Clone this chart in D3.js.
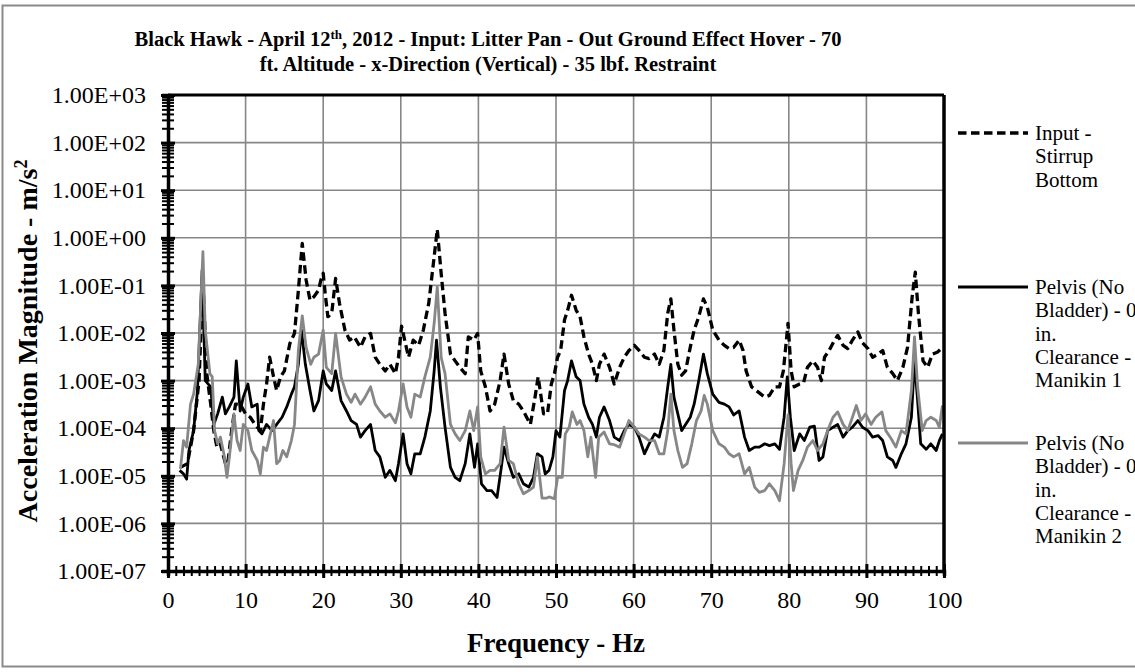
<!DOCTYPE html>
<html><head><meta charset="utf-8">
<script src="https://cdn.jsdelivr.net/npm/d3@7"></script>
<style>html,body{margin:0;padding:0;background:#fff;}svg{display:block;}</style>
</head><body>
<svg id="chart" width="1135" height="672"></svg>
<script>
// ---------- DATA ----------
const inputFreq = [1.6,2.5,3.3,4.0,4.5,5.0,5.5,5.9,6.3,6.75,7.4,7.7,8.2,8.7,9.3,10.0,10.6,11.2,11.9,12.3,12.7,13.1,13.6,14.0,14.5,15.0,15.7,16.3,16.8,17.3,17.8,18.3,18.8,19.4,19.7,20.0,20.3,20.6,21.1,21.6,22.1,22.8,23.4,24.0,24.8,25.4,26.1,26.7,27.3,28.0,28.6,29.3,29.7,30.1,30.6,31.0,31.6,32.3,32.9,33.6,34.2,34.7,35.2,35.7,36.4,37.0,37.6,38.3,38.7,39.4,39.9,40.3,40.9,41.5,42.1,42.8,43.3,43.9,44.5,45.2,45.8,46.7,47.3,47.7,48.4,48.9,49.4,49.8,50.2,50.6,51.1,51.5,52.0,52.6,53.1,53.6,54.2,54.7,55.2,55.6,56.2,56.9,57.5,58.2,58.8,59.4,60.1,60.7,61.4,62.0,62.7,63.3,63.9,64.4,64.8,65.2,65.7,66.2,66.7,67.3,67.8,68.4,69.0,69.5,70.2,71.0,71.7,72.3,72.9,73.6,74.1,74.5,75.2,75.8,76.4,76.9,77.5,78.2,78.8,79.3,79.9,80.3,80.7,81.4,81.9,82.4,83.1,83.7,84.2,84.6,85.2,85.9,86.3,87.0,87.6,88.2,88.9,89.5,90.2,90.8,91.5,92.1,92.7,93.4,94.0,94.7,95.3,95.9,96.3,96.7,97.3,97.9,98.5,99.2,99.8];
const inputValues = [1.5e-5,1.8e-5,8.9e-5,1e-3,0.13,1.4e-3,3.2e-4,8.9e-5,4e-5,4.7e-5,1.8e-5,1.8e-5,8.9e-5,3.2e-4,3.2e-4,2e-4,1.7e-4,1.2e-4,8.9e-5,3.2e-4,8.5e-4,3.1e-3,1.2e-3,6.2e-4,1.2e-3,1.6e-3,6e-3,9.8e-3,0.079,0.76,0.13,0.049,0.058,0.079,0.13,0.18,0.058,0.022,0.026,0.14,0.042,0.0115,0.0071,0.0083,0.005,0.0083,0.0098,0.0031,0.0022,0.0016,0.0022,0.0014,0.0031,0.014,0.006,0.0031,0.0071,0.0055,0.0115,0.042,0.29,1.5,0.18,0.026,0.0036,0.0026,0.0019,0.0014,0.0083,0.0071,0.0098,0.0016,7.4e-4,2.3e-4,3.2e-4,1e-3,3.6e-3,8.5e-4,3.8e-4,3.2e-4,2.3e-4,1.2e-4,4.5e-4,1.2e-3,2e-4,2e-4,8.5e-4,1.4e-3,3.1e-3,4.3e-3,0.019,0.030,0.062,0.030,0.022,0.0083,0.0036,0.0022,0.001,0.0022,0.0036,0.0019,8.5e-4,0.0019,0.0031,0.0043,0.0055,0.0043,0.0031,0.0029,0.0036,0.0022,0.0043,0.026,0.052,0.0115,0.0022,0.0013,0.0016,0.005,0.0115,0.022,0.052,0.035,0.0115,0.0071,0.0055,0.0047,0.005,0.0071,0.0043,0.0016,7.4e-4,6.2e-4,5.2e-4,4.5e-4,4.9e-4,7.4e-4,7.4e-4,0.0016,0.016,0.0016,7.4e-4,8.5e-4,9e-4,0.0019,0.0026,0.0019,0.001,0.0031,0.0043,0.0071,0.0089,0.0055,0.0047,0.0071,0.0105,0.0062,0.0047,0.0031,0.0036,0.0043,0.0019,0.0014,0.001,0.0019,0.005,0.058,0.19,0.026,0.0026,0.0019,0.0036,0.004,0.005];

const manikin1Freq = [1.5,2.0,2.4,2.7,3.3,3.8,4.4,4.8,5.5,5.9,6.4,7.0,7.4,7.9,8.5,8.8,9.3,9.7,10.3,10.8,11.5,11.7,12.1,12.7,13.4,14.0,14.7,15.3,15.9,16.3,16.8,17.2,17.7,18.3,18.8,19.4,20.0,20.4,21.1,21.6,22.3,23.0,23.6,24.3,24.8,25.4,26.1,26.7,27.3,28.0,28.6,29.3,29.7,30.3,30.8,31.3,31.8,32.5,33.1,33.8,34.3,34.6,35.1,35.7,36.4,37.0,37.6,38.3,38.9,39.5,39.9,40.4,41.1,41.7,42.4,42.9,43.3,43.9,44.5,45.2,45.8,46.5,47.1,47.6,48.2,48.6,49.1,49.6,50.0,50.5,51.1,51.5,52.0,52.6,53.1,53.6,54.2,54.7,55.2,55.6,56.2,56.9,57.5,58.2,58.8,59.4,60.1,60.7,61.4,62.0,62.7,63.3,63.9,64.4,64.8,65.2,65.7,66.2,66.7,67.3,67.8,68.4,69.0,69.5,70.2,71.0,71.7,72.3,72.9,73.6,74.3,74.9,75.6,76.2,76.9,77.5,78.2,78.8,79.4,79.8,80.2,80.7,81.4,82.0,82.7,83.3,83.9,84.4,85.0,85.7,86.3,87.0,87.6,88.2,88.9,89.5,90.2,90.8,91.5,92.1,92.7,93.4,93.8,94.5,95.1,95.8,96.2,96.6,97.0,97.7,98.3,99.0,99.4,99.8];
const manikin1Values = [1.3e-5,1.1e-5,8.5e-6,3.4e-5,8.9e-5,6.2e-4,0.21,1e-3,7.4e-4,1.2e-4,2e-4,4.5e-4,2e-4,2.8e-4,4.5e-4,2.6e-3,2.3e-4,4.5e-4,8.5e-4,2.8e-4,3.2e-4,8.9e-5,7.6e-5,1.2e-4,8.9e-5,1.2e-4,1.7e-4,2.8e-4,5.2e-4,7.4e-4,2.2e-3,0.0115,2.2e-3,6.2e-4,2.3e-4,3.8e-4,1.6e-3,8.5e-4,6.2e-4,1.6e-3,3.8e-4,2.3e-4,1.45e-4,1.2e-4,6.5e-5,8.9e-5,1.2e-4,3.4e-5,2.5e-5,9.3e-6,1.3e-5,7.9e-6,1.8e-5,7.6e-5,1.8e-5,1.1e-5,2.9e-5,2.9e-5,6.5e-5,2.3e-4,1.6e-3,7.1e-3,7.4e-4,1.05e-4,1.5e-5,9.3e-6,7.9e-6,1.8e-5,7.6e-5,1.5e-5,4.7e-5,6.8e-6,4.9e-6,4.9e-6,3.5e-6,1.3e-5,4e-5,1.8e-5,9.3e-6,1.1e-5,6.8e-6,5.8e-6,9.3e-6,2.9e-5,2.5e-5,1.1e-5,1.3e-5,2.5e-5,8.9e-5,6.5e-5,6.2e-4,1e-3,2.6e-3,1.2e-3,1e-3,3.2e-4,1.7e-4,1.2e-4,6.5e-5,1.7e-4,2.8e-4,1.45e-4,6.5e-5,5.5e-5,8.9e-5,1.2e-4,1.05e-4,6.5e-5,2.9e-5,4.7e-5,7.6e-5,6.5e-5,1.7e-4,7.4e-4,2.2e-3,4.5e-4,2e-4,8.9e-5,1.2e-4,1.7e-4,3.2e-4,1e-3,3.6e-3,1.4e-3,5.2e-4,3.5e-4,3.2e-4,2.8e-4,1.9e-4,2.3e-4,6.5e-5,3.4e-5,4e-5,4e-5,4.7e-5,4.3e-5,4.7e-5,3.6e-5,1.7e-4,1.2e-3,1.7e-4,3.4e-5,7.6e-5,5.5e-5,1.05e-4,1.1e-4,2.1e-5,2.5e-5,8.9e-5,1.05e-4,1.2e-4,6.5e-5,8.9e-5,1.05e-4,1.45e-4,1.05e-4,8.9e-5,6.5e-5,7e-5,5.5e-5,2.5e-5,2.1e-5,1.5e-5,2.9e-5,4.7e-5,1.7e-4,2.6e-3,3.8e-4,4.7e-5,3.6e-5,4.7e-5,3.4e-5,5.5e-5,7.6e-5];

const manikin2Freq = [1.6,2.0,2.4,2.9,3.3,3.9,4.5,4.8,5.4,5.7,6.0,6.4,6.75,7.2,7.6,8.0,8.5,8.9,9.3,9.7,10.3,10.8,11.5,11.9,12.3,12.7,13.1,13.6,14.0,14.4,14.8,15.3,15.9,16.3,16.8,17.3,17.8,18.4,18.8,19.4,20.0,20.4,21.1,21.6,22.3,23.0,23.6,24.1,24.8,25.4,26.1,26.7,27.3,28.0,28.6,29.3,29.7,30.3,30.8,31.3,31.8,32.5,33.1,33.8,34.3,34.7,35.2,35.7,36.4,37.0,37.6,38.3,38.9,39.4,39.9,40.3,40.9,41.5,42.1,42.8,43.3,43.9,44.5,45.2,45.8,46.5,47.1,47.6,48.2,48.8,49.1,49.8,50.2,50.8,51.2,51.7,52.1,52.7,53.1,53.6,54.1,54.5,55.1,55.5,56.2,56.9,57.5,58.2,58.8,59.4,60.1,60.7,61.4,62.0,62.7,63.3,63.9,64.4,64.8,65.2,65.7,66.3,66.9,67.5,68.1,68.7,69.1,69.5,70.2,71.0,71.7,72.3,72.9,73.6,74.3,74.9,75.6,76.2,76.9,77.5,78.2,78.8,79.4,79.9,80.3,80.6,81.2,81.8,82.4,83.1,83.7,84.4,85.0,85.7,86.3,87.0,87.6,88.2,88.7,89.3,89.9,90.6,91.2,92.0,92.5,93.2,93.8,94.5,95.1,95.8,96.2,96.6,97.2,97.7,98.3,99.0,99.4,99.8];
const manikin2Values = [1.4e-5,5.5e-5,4e-5,3.2e-4,5.2e-4,2.2e-3,0.51,0.0115,1.4e-3,1.2e-3,8.9e-5,4.7e-5,6.5e-5,2.9e-5,9.3e-6,3.4e-5,2e-4,5.5e-5,3.4e-5,1.2e-4,8.9e-5,3.4e-5,2.1e-5,1.1e-5,4e-5,3.4e-5,6.5e-5,1.45e-4,1.8e-5,2.1e-5,3.4e-5,2.5e-5,5.5e-5,1.2e-4,4.3e-3,0.023,5e-3,2.2e-3,3.1e-3,3.6e-3,0.0115,1.9e-3,1.4e-3,9.8e-3,1.2e-3,5.2e-4,3.5e-4,5.2e-4,3.2e-4,4.5e-4,7.4e-4,3.2e-4,2.3e-4,1.7e-4,2e-4,1.3e-4,2.3e-4,8.5e-4,2.8e-4,1.7e-4,5.2e-4,4.5e-4,1.2e-3,3.1e-3,0.016,0.093,3.1e-3,1.4e-3,1.2e-4,7.6e-5,5.5e-5,8.9e-5,2.3e-4,8.9e-5,2.8e-4,2.5e-5,1.1e-5,1.3e-5,1.3e-5,1.8e-5,1.05e-4,2.1e-5,1.8e-5,6.8e-6,4.2e-6,4.9e-6,5.8e-6,2.5e-5,3.4e-6,3.4e-6,3.6e-6,3.3e-6,9.3e-6,9.3e-6,7.6e-5,1.05e-4,2.2e-4,1.2e-4,1.45e-4,8.9e-5,2.5e-5,6.5e-5,9.3e-6,6.5e-5,8.3e-5,4.7e-5,4.5e-5,4e-5,7.6e-5,1.45e-4,1.05e-4,7.6e-5,6.5e-5,5.5e-5,5.5e-5,2.9e-5,2.9e-5,8.9e-5,5.2e-4,8.9e-5,3.4e-5,1.5e-5,1.8e-5,4.7e-5,1.45e-4,2.3e-4,4.9e-4,3.2e-4,8.9e-5,4.7e-5,4e-5,2.9e-5,2.5e-5,2.9e-5,1.1e-5,1.5e-5,5.8e-6,4.5e-6,4.9e-6,6.8e-6,4.9e-6,3e-6,1.8e-5,1.9e-4,1.8e-5,4.9e-6,1.3e-5,2.1e-5,4e-5,5.5e-5,3.4e-5,4.7e-5,8.9e-5,1.7e-4,2.2e-4,1.2e-4,8.9e-5,1.7e-4,3e-4,1.45e-4,2e-4,1.2e-4,1.7e-4,2.2e-4,8.9e-5,6e-5,4e-5,8.9e-5,7.6e-5,6.2e-4,8.3e-3,7.4e-4,8.9e-5,1.45e-4,1.7e-4,1.45e-4,1.05e-4,3e-4];

const seriesNames = [["Input -","Stirrup","Bottom"],["Pelvis (No","Bladder) - 0","in.","Clearance -","Manikin 1"],["Pelvis (No","Bladder) - 0","in.","Clearance -","Manikin 2"]];
const yTicks = [1e-7,1e-6,1e-5,1e-4,1e-3,1e-2,1e-1,1e0,1e1,1e2,1e3];
const yTickLabels = ["1.00E-07","1.00E-06","1.00E-05","1.00E-04","1.00E-03","1.00E-02","1.00E-01","1.00E+00","1.00E+01","1.00E+02","1.00E+03"];
const xTicks = [0,10,20,30,40,50,60,70,80,90,100];
const xMinorTicks = d3.range(0,101,1);

// ---------- LAYOUT ----------
const svg = d3.select("#chart");
const L = 168, R = 944, T = 95, B = 571;
const FONT = "'Liberation Serif','Times New Roman',serif";

svg.append("rect").attr("x",2.5).attr("y",5.5).attr("width",1140).attr("height",661)
  .attr("fill","#fff").attr("stroke","#8a8a8a").attr("stroke-width",2);

const x = d3.scaleLinear().domain([0,100]).range([L,R]);
const y = d3.scaleLog().domain([1e-7,1e3]).range([B,T]);

// gridlines
const grid = svg.append("g").attr("stroke","#878787").attr("stroke-width",1.6);
grid.selectAll("line.h").data(yTicks).join("line").attr("class","h")
  .attr("x1",L).attr("x2",R).attr("y1",d=>y(d)).attr("y2",d=>y(d));
grid.selectAll("line.v").data(xTicks).join("line").attr("class","v")
  .attr("y1",T).attr("y2",B).attr("x1",d=>x(d)).attr("x2",d=>x(d));

// clip
svg.append("clipPath").attr("id","clip").append("rect").attr("x",L).attr("y",T).attr("width",R-L).attr("height",B-T);

const line = d3.line().x(d=>x(d[0])).y(d=>y(d[1])).curve(d3.curveLinear);
const plot = svg.append("g").attr("clip-path","url(#clip)");
const series = [
  {f:inputFreq, v:inputValues, color:"#000", w:3.3, dash:"8.5,4.5"},
  {f:manikin1Freq, v:manikin1Values, color:"#000", w:2.8, dash:null},
  {f:manikin2Freq, v:manikin2Values, color:"#878787", w:2.8, dash:null}
];
series.forEach(s=>{
  plot.append("path").datum(s.f.map((f,i)=>[f,s.v[i]]))
    .attr("d",line).attr("fill","none").attr("stroke",s.color)
    .attr("stroke-width",s.w).attr("stroke-linejoin","round")
    .attr("stroke-dasharray",s.dash);
});

// frame lines (top/right)
svg.append("line").attr("x1",L).attr("x2",R).attr("y1",T).attr("y2",T).attr("stroke","#000").attr("stroke-width",3);
svg.append("line").attr("x1",R).attr("x2",R).attr("y1",T).attr("y2",B).attr("stroke","#000").attr("stroke-width",3.5);

// minor log ticks
const yMinor = [];
yTicks.slice(0,-1).forEach(d=>{ for(let k=2;k<=9;k++) yMinor.push(d*k); });

function styleAxis(g){
  g.select(".domain").attr("stroke","#000").attr("stroke-width",3.5);
  g.selectAll(".tick line").attr("stroke","#000").attr("stroke-width",2);
}
// Y axis major + minor (crossing ticks)
svg.append("g").attr("transform",`translate(${L},0)`)
  .call(d3.axisLeft(y).tickValues(yMinor).tickSize(6).tickFormat(""))
  .call(styleAxis);
svg.append("g").attr("transform",`translate(${L},0)`)
  .call(d3.axisRight(y).tickValues(yMinor).tickSize(6).tickFormat(""))
  .call(g=>g.select(".domain").remove())
  .call(g=>g.selectAll(".tick line").attr("stroke","#000").attr("stroke-width",2));
svg.append("g").attr("transform",`translate(${L},0)`)
  .call(d3.axisRight(y).tickValues(yTicks).tickSize(7).tickFormat(""))
  .call(g=>g.select(".domain").remove())
  .call(g=>g.selectAll(".tick line").attr("stroke","#000").attr("stroke-width",3));
svg.append("g").attr("transform",`translate(${L},0)`)
  .call(d3.axisLeft(y).tickValues(yTicks).tickSize(7).tickPadding(15).tickFormat((d,i)=>yTickLabels[i]))
  .call(g=>g.select(".domain").remove())
  .call(g=>g.selectAll(".tick line").attr("stroke","#000").attr("stroke-width",3))
  .call(g=>g.selectAll("text").attr("font-family",FONT).attr("font-size",24).attr("fill","#000"));

// X axis
svg.append("g").attr("transform",`translate(0,${B})`)
  .call(d3.axisBottom(x).tickValues(xMinorTicks).tickSize(5).tickFormat(""))
  .call(styleAxis);
svg.append("g").attr("transform",`translate(0,${B})`)
  .call(d3.axisTop(x).tickValues(xMinorTicks).tickSize(5).tickFormat(""))
  .call(g=>g.select(".domain").remove())
  .call(g=>g.selectAll(".tick line").attr("stroke","#000").attr("stroke-width",2));
svg.append("g").attr("transform",`translate(0,${B})`)
  .call(d3.axisTop(x).tickValues(xTicks).tickSize(7).tickFormat(""))
  .call(g=>g.select(".domain").remove())
  .call(g=>g.selectAll(".tick line").attr("stroke","#000").attr("stroke-width",3));
svg.append("g").attr("transform",`translate(0,${B})`)
  .call(d3.axisBottom(x).tickValues(xTicks).tickSize(7).tickPadding(13).tickFormat(d=>String(d)))
  .call(g=>g.select(".domain").remove())
  .call(g=>g.selectAll(".tick line").attr("stroke","#000").attr("stroke-width",3))
  .call(g=>g.selectAll("text").attr("font-family",FONT).attr("font-size",24).attr("fill","#000"));

// Titles
const title = svg.append("text").attr("x",488).attr("y",46).attr("text-anchor","middle")
  .attr("font-family",FONT).attr("font-weight","bold").attr("font-size",20.5).attr("fill","#000");
title.append("tspan").text("Black Hawk - April 12");
title.append("tspan").attr("baseline-shift","super").attr("font-size",13).text("th");
title.append("tspan").text(", 2012 - Input: Litter Pan - Out Ground Effect Hover - 70");
svg.append("text").attr("x",488).attr("y",71).attr("text-anchor","middle")
  .attr("font-family",FONT).attr("font-weight","bold").attr("font-size",20.5).attr("fill","#000")
  .text("ft. Altitude - x-Direction (Vertical) - 35 lbf. Restraint");

svg.append("text").attr("x",(L+R)/2).attr("y",652).attr("text-anchor","middle")
  .attr("font-family",FONT).attr("font-weight","bold").attr("font-size",27).attr("fill","#000")
  .text("Frequency - Hz");
const yt = svg.append("text").attr("transform",`translate(37,${(T+B)/2+8}) rotate(-90)`).attr("text-anchor","middle")
  .attr("font-family",FONT).attr("font-weight","bold").attr("font-size",28).attr("fill","#000");
yt.append("tspan").text("Acceleration Magnitude - m/s");
yt.append("tspan").attr("baseline-shift","super").attr("font-size",18).text("2");

// Legend
const legY = [133, 287, 443];
series.forEach((s,i)=>{
  svg.append("line").attr("x1",958).attr("x2",1028).attr("y1",legY[i]).attr("y2",legY[i])
    .attr("stroke",s.color).attr("stroke-width",s.w).attr("stroke-dasharray",s.dash);
  const t = svg.append("text").attr("x",1035).attr("y",legY[i]+7)
    .attr("font-family",FONT).attr("font-size",21).attr("fill","#000");
  seriesNames[i].forEach((ln,j)=>{
    t.append("tspan").attr("x",1035).attr("dy",j===0?0:23.3).text(ln);
  });
});
</script>
</body></html>
